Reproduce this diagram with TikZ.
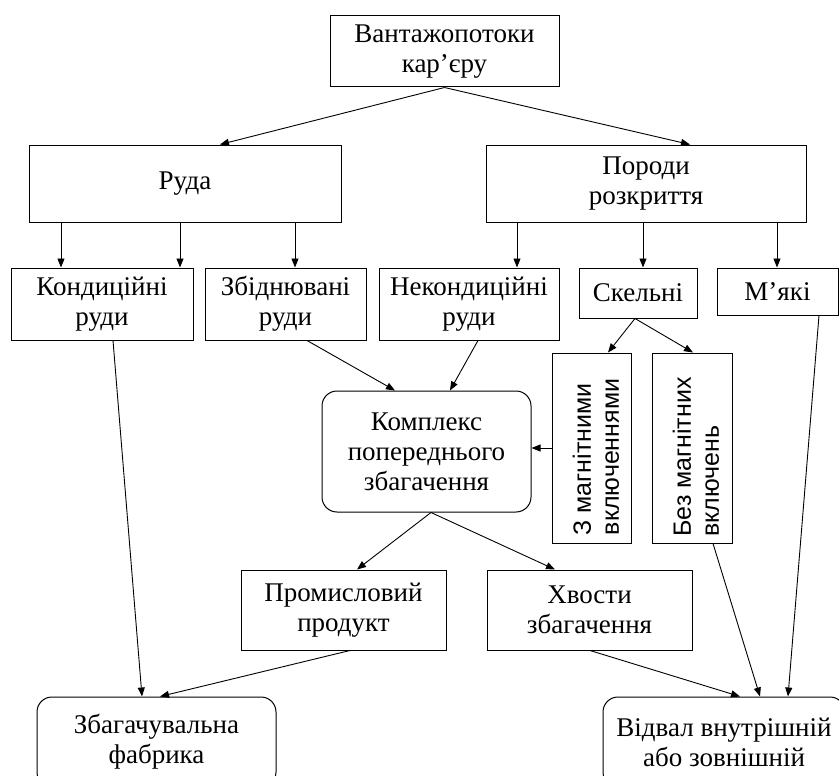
\documentclass[tikz,border=0pt]{standalone}
\usepackage{fontspec}
\setmainfont{Liberation Serif}
\newfontfamily\vsans{Liberation Sans}
\usetikzlibrary{arrows.meta,calc}
\tikzset{
  box/.style={draw, line width=1pt, inner sep=0pt, align=center, font=\fontsize{27}{30}\selectfont},
  rbox/.style={box, rounded corners=15pt},
  vtext/.style={rotate=90, align=left, inner sep=0pt, font=\vsans\fontsize{25}{28}\selectfont},
  arr/.style={line width=0.9pt, -{Triangle[length=9pt,width=7pt]}},
}
\begin{document}
\begin{tikzpicture}[x=1pt,y=-1pt]
\useasboundingbox (0,0) rectangle (839,776);
\node[box, minimum width=229pt, minimum height=71pt] (top) at (444.5,51.5) {Вантажопотоки\\кар’єру};
\node[box, minimum width=312pt, minimum height=77pt] (ruda) at (185,183.5) {Руда};
\node[box, minimum width=320pt, minimum height=77pt] (porody) at (646,183.5) {Породи\\розкриття};
\node[box, minimum width=182pt, minimum height=72pt] (kond) at (102,304) {Кондиційні\\руди};
\node[box, minimum width=161pt, minimum height=72pt] (zbid) at (285.5,304) {Збіднювані\\руди};
\node[box, minimum width=180pt, minimum height=72pt] (nekond) at (469,304) {Некондиційні\\руди};
\node[box, minimum width=118pt, minimum height=50pt] (skel) at (638,293) {Скельні};
\node[box, minimum width=121pt, minimum height=47pt] (myaki) at (777.5,291.5) {М’які};
\node[rbox, minimum width=209pt, minimum height=121pt] (kompleks) at (426.5,451.5) {Комплекс\\попереднього\\збагачення};
\node[box, minimum width=79pt, minimum height=190pt] (zmag) at (591.5,448) {};
\node[vtext] (zmagt) at (596,457) {З магнітними\\включеннями};
\node[box, minimum width=80pt, minimum height=190pt] (bezmag) at (692,448) {};
\node[vtext] (bezmagt) at (696,457) {Без магнітних\\включень};
\node[box, minimum width=205pt, minimum height=80pt] (prom) at (343.5,610) {Промисловий\\продукт};
\node[box, minimum width=205pt, minimum height=80pt] (hvosty) at (589.5,610) {Хвости\\збагачення};
\node[rbox, minimum width=239pt, minimum height=90pt] (fabr) at (156.5,742) {Збагачувальна\\фабрика};
\node[rbox, minimum width=242pt, minimum height=90pt] (vidval) at (724,742) {Відвал внутрішній\\або зовнішній};

\draw[arr] (top.south) -- ([xshift=35pt]ruda.north);
\draw[arr] (top.south) -- ([xshift=44pt]porody.north);
\draw[arr] ([xshift=-124pt]ruda.south) -- ([xshift=-41pt]kond.north);
\draw[arr] ([xshift=-5pt]ruda.south) -- ([xshift=78pt]kond.north);
\draw[arr] ([xshift=110pt]ruda.south) -- ([xshift=9.5pt]zbid.north);
\draw[arr] ([xshift=-129pt]porody.south) -- ([xshift=48pt]nekond.north);
\draw[arr] ([xshift=-3pt]porody.south) -- ([xshift=5pt]skel.north);
\draw[arr] ([xshift=131pt]porody.south) -- ([xshift=-0.5pt]myaki.north);
\draw[arr] ([xshift=-3pt]skel.south) -- ([xshift=16.5pt]zmag.north);
\draw[arr] ([xshift=-3pt]skel.south) -- ([xshift=1pt]bezmag.north);
\draw[arr] ([xshift=21.5pt]zbid.south) -- ([xshift=-31.5pt]kompleks.north);
\draw[arr] ([xshift=9pt]nekond.south) -- ([xshift=23.5pt]kompleks.north);
\draw[arr] (zmag.west) -- (zmag.west -| kompleks.east);
\draw[arr] ([xshift=4.5pt]kompleks.south) -- ([xshift=13.5pt]prom.north);
\draw[arr] ([xshift=4.5pt]kompleks.south) -- ([xshift=-34.5pt]hvosty.north);
\draw[arr] ([xshift=11pt]kond.south) -- ([xshift=-14.5pt]fabr.north);
\draw[arr] ([xshift=6.5pt]prom.south) -- ([xshift=3.5pt]fabr.north);
\draw[arr] ([xshift=0.5pt]hvosty.south) -- ([xshift=16pt]vidval.north);
\draw[arr] ([xshift=21pt]bezmag.south) -- ([xshift=36pt]vidval.north);
\draw[arr] ([xshift=41.5pt]myaki.south) -- ([xshift=64pt]vidval.north);
\end{tikzpicture}
\end{document}
